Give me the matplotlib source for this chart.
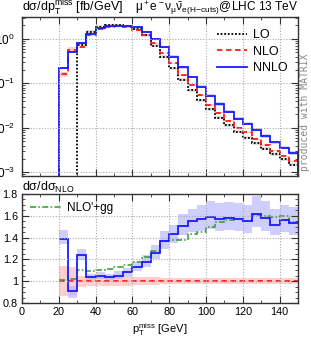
import numpy as np
import matplotlib
matplotlib.use("Agg")
import matplotlib.pyplot as plt
from matplotlib.ticker import MultipleLocator, FixedLocator, FuncFormatter, LogLocator, NullFormatter

plt.rcParams['font.family'] = ['Liberation Sans', 'DejaVu Sans']
plt.rcParams['mathtext.fontset'] = 'custom'
plt.rcParams['mathtext.rm'] = 'Liberation Sans'
plt.rcParams['mathtext.it'] = 'Liberation Sans'
plt.rcParams['mathtext.bf'] = 'Liberation Sans:bold'
plt.rcParams['mathtext.default'] = 'regular'

# ---- data ----
edges = np.arange(20, 155, 5)          # 20..150 GeV, 5 GeV bins
lo_edges = np.arange(30, 155, 5)

nlo = [0.16, 0.57, 0.64, 1.25, 1.63, 1.85, 1.90, 1.83, 1.62, 1.23, 0.79, 0.475,
       0.28, 0.152, 0.090, 0.054, 0.0327, 0.0217, 0.0146, 0.0102, 0.0079,
       0.0056, 0.0041, 0.0031, 0.0023, 0.00176]
lo = [0.74, 1.45, 1.85, 2.02, 2.02, 1.92, 1.68, 1.20, 0.70, 0.40, 0.22, 0.12,
      0.070, 0.042, 0.026, 0.017, 0.0115, 0.0082, 0.0060, 0.0045, 0.0034,
      0.0026, 0.0020, 0.0015]

# ratios to NLO (lower panel)
r_nnlo = [1.39, 0.91, 1.24, 1.04, 1.05, 1.04, 1.05, 1.08, 1.13, 1.18, 1.26, 1.37,
          1.43, 1.51, 1.55, 1.57, 1.59, 1.57, 1.58, 1.57, 1.55, 1.62, 1.58, 1.52,
          1.56, 1.53]
r_nnlo_lo = [1.34, 0.85, 1.19, 1.01, 1.02, 1.01, 1.02, 1.04, 1.09, 1.13, 1.20, 1.30,
             1.35, 1.42, 1.45, 1.46, 1.48, 1.46, 1.47, 1.46, 1.44, 1.50, 1.46, 1.42,
             1.45, 1.42]
r_nnlo_hi = [1.47, 0.96, 1.30, 1.07, 1.08, 1.07, 1.09, 1.12, 1.18, 1.24, 1.33, 1.46,
             1.52, 1.62, 1.66, 1.70, 1.74, 1.72, 1.73, 1.72, 1.70, 1.78, 1.74, 1.66,
             1.70, 1.68]
r_nlo_lo = [0.86, 0.87, 0.95, 0.96, 0.96, 0.96, 0.96, 0.96, 0.965, 0.965, 0.965, 0.97,
            0.97, 0.97, 0.97, 0.97, 0.97, 0.975, 0.975, 0.975, 0.975, 0.975, 0.975,
            0.975, 0.975, 0.975]
r_nlo_hi = [1.14, 1.13, 1.05, 1.04, 1.04, 1.04, 1.04, 1.04, 1.035, 1.035, 1.035, 1.03,
            1.03, 1.03, 1.03, 1.03, 1.03, 1.025, 1.025, 1.025, 1.025, 1.025, 1.025,
            1.025, 1.025, 1.025]
r_nlogg = [1.01, 1.02, 1.10, 1.09, 1.10, 1.11, 1.13, 1.15, 1.18, 1.22, 1.28, 1.37,
           1.38, 1.38, 1.43, 1.45, 1.50, 1.54, 1.56, 1.57, 1.55, 1.61, 1.60, 1.59,
           1.60, 1.54]
lo_band = 0.08

nlo = np.array(nlo); lo = np.array(lo)
r_nnlo = np.array(r_nnlo)
nnlo = nlo * r_nnlo
nnlo_lo = nlo * np.array(r_nnlo_lo)
nnlo_hi = nlo * np.array(r_nnlo_hi)
nlo_lo = nlo * np.array(r_nlo_lo)
nlo_hi = nlo * np.array(r_nlo_hi)
ones = np.ones(len(nlo))

BLUE = '#1a1aff'
RED = '#ff1a1a'
GREEN = '#2e9a2e'

fig = plt.figure(figsize=(3.11, 3.40), dpi=100)
ax1 = fig.add_axes([22/311, 1-176/340, 276/311, 159/340])
ax2 = fig.add_axes([22/311, 1-303/340, 276/311, 109/340])

# ---- upper panel ----
ax1.stairs(lo*(1+lo_band), lo_edges, baseline=lo*(1-lo_band), fill=True,
           color='#c8c8c8', alpha=0.6, lw=0)
ax1.stairs(nlo_hi, edges, baseline=nlo_lo, fill=True, color='#ffb0b0', alpha=0.6, lw=0)
ax1.stairs(nnlo_hi, edges, baseline=nnlo_lo, fill=True, color='#b0b0ff', alpha=0.6, lw=0)
ax1.stairs(lo, lo_edges, baseline=1e-5, color='black', ls=(0, (1, 1)), lw=1.3, label='LO')
ax1.stairs(nlo, edges, baseline=1e-5, color=RED, ls=(0, (3, 2)), lw=1.3, label='NLO')
ax1.stairs(nnlo, edges, baseline=1e-5, color=BLUE, lw=1.3, label='NNLO')

ax1.set_yscale('log')
ax1.set_xlim(0, 150)
ax1.set_ylim(8.3e-4, 3.1)
ax1.yaxis.set_major_locator(FixedLocator([1e-3, 1e-2, 1e-1, 1]))
ax1.yaxis.set_major_formatter(FuncFormatter(lambda v, p: r'$10^{%d}$' % round(np.log10(v))))
ax1.yaxis.set_minor_locator(LogLocator(base=10, subs=np.arange(2, 10)))
ax1.yaxis.set_minor_formatter(NullFormatter())
ax1.xaxis.set_major_locator(MultipleLocator(20))
ax1.xaxis.set_minor_locator(MultipleLocator(10))
ax1.set_xticklabels([])
ax1.grid(True, which='major', color='#aaaaaa', ls=(0, (1, 1.5)), lw=0.8)

leg = ax1.legend(loc='upper right', bbox_to_anchor=(0.99, 0.97), frameon=False,
                 fontsize=9, handlelength=2.4, handletextpad=0.5, labelspacing=0.35,
                 borderaxespad=0.2)

# ---- lower panel ----
ax2.stairs(r_nlo_hi, edges, baseline=r_nlo_lo, fill=True, color='#ffb0b0', alpha=0.6, lw=0)
ax2.stairs(r_nnlo_hi, edges, baseline=r_nnlo_lo, fill=True, color='#b0b0ff', alpha=0.6, lw=0)
ax2.stairs(ones, edges, baseline=None, color=RED, ls=(0, (3, 2)), lw=1.3)
ax2.stairs(r_nlogg, edges, baseline=None, color=GREEN, ls=(0, (4, 1.5, 1, 1.5)), lw=1.1,
           label="NLO'+gg")
ax2.stairs(r_nnlo, edges, baseline=None, color=BLUE, lw=1.3)

ax2.set_xlim(0, 150)
ax2.set_ylim(0.8, 1.8)
ax2.yaxis.set_major_locator(MultipleLocator(0.2))
ax2.yaxis.set_minor_locator(MultipleLocator(0.05))
ax2.yaxis.set_major_formatter(FuncFormatter(lambda v, p: '1' if abs(v-1) < 1e-6 else '%.1f' % v))
ax2.xaxis.set_major_locator(MultipleLocator(20))
ax2.xaxis.set_minor_locator(MultipleLocator(10))
ax2.grid(True, which='major', color='#aaaaaa', ls=(0, (1, 1.5)), lw=0.8)
ax2.legend(loc='upper left', bbox_to_anchor=(0.0, 1.0), frameon=False, fontsize=8.5,
           handlelength=2.6, handletextpad=0.5, borderaxespad=0.3)
ax2.set_xlabel(r'p$_\mathrm{T}^\mathrm{miss}$ [GeV]', fontsize=8, labelpad=3)

for ax in (ax1, ax2):
    ax.tick_params(which='both', direction='in', top=True, right=True, labelsize=7.8,
                   color='#333333', pad=3)
    ax.tick_params(which='major', length=5)
    ax.tick_params(which='minor', length=2.5)
    for s in ax.spines.values():
        s.set_color('#333333')
        s.set_linewidth(1.0)
ax1.tick_params(axis='y', labelsize=8.5, pad=5)

fig.text(22/311, 1-8/340, r'd$\sigma$/dp$_\mathrm{T}^\mathrm{miss}$ [fb/GeV]',
         fontsize=9, ha='left', va='center')
fig.text(298/311, 1-8/340,
         r'$\mu^+$e$^-\nu_\mu\bar{\nu}_\mathrm{e}$' + r'$_\mathrm{(H\mathrm{-}cuts)}$@LHC 13 TeV',
         fontsize=8.6, ha='right', va='center')
fig.text(22/311, 1-187/340, r'd$\sigma$/d$\sigma_\mathrm{NLO}$', fontsize=9,
         ha='left', va='center')
fig.text(305/311, 1-112/340, 'produced with MATRIX', rotation=90, fontsize=7,
         family='DejaVu Sans Mono', color='#888888', ha='center', va='center')

fig.savefig('out.png', dpi=100)
